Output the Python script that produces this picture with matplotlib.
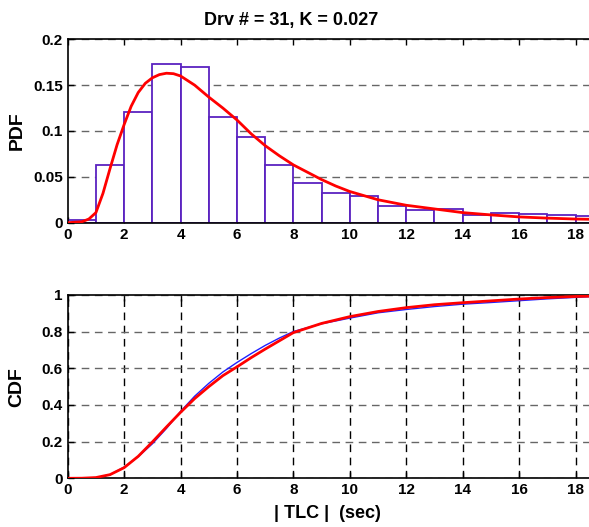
import matplotlib
matplotlib.use("Agg")
import matplotlib.pyplot as plt
import numpy as np

plt.rcParams['font.family'] = ['Liberation Sans', 'DejaVu Sans']
plt.rcParams['font.weight'] = 'bold'

# histogram of |TLC| (bin width 1 s)
bin_left = [0, 1, 2, 3, 4, 5, 6, 7, 8, 9, 10, 11, 12, 13, 14, 15, 16, 17, 18]
hist_pdf = [0.0025, 0.063, 0.121, 0.173, 0.170, 0.115, 0.0935, 0.063, 0.043, 0.032,
            0.0295, 0.018, 0.014, 0.015, 0.008, 0.011, 0.010, 0.0084, 0.0069]

# fitted pdf (red)
fit_x = [0, 0.5, 0.75, 1, 1.25, 1.5, 1.75, 2, 2.25, 2.5, 2.75, 3, 3.25, 3.5, 3.75, 4,
         4.5, 5, 5.5, 6, 6.5, 7, 7.5, 8, 8.5, 9, 9.5, 10, 11, 12, 13, 14, 15, 16, 17, 18, 19]
fit_pdf = [0.0, 0.001, 0.004, 0.011, 0.032, 0.059, 0.085, 0.107, 0.127, 0.142, 0.152,
           0.158, 0.1615, 0.163, 0.1625, 0.160, 0.150, 0.137, 0.125, 0.112, 0.097,
           0.084, 0.073, 0.063, 0.055, 0.047, 0.040, 0.034, 0.025, 0.019, 0.015,
           0.011, 0.0085, 0.0063, 0.005, 0.004, 0.0035]

# cdf: fitted (red) and empirical (blue)
cdf_x = [0, 0.5, 1, 1.5, 2, 2.5, 3, 3.5, 4, 4.5, 5, 5.5, 6, 6.5, 7, 7.5, 8, 9, 10,
         11, 12, 13, 14, 15, 16, 17, 18, 19]
fit_cdf = [0.0, 0.0005, 0.004, 0.02, 0.058, 0.12, 0.198, 0.28, 0.36, 0.435, 0.50,
           0.56, 0.608, 0.658, 0.705, 0.75, 0.795, 0.845, 0.882, 0.91, 0.931, 0.947,
           0.958, 0.968, 0.978, 0.986, 0.992, 0.995]
emp_cdf = [0.0, 0.001, 0.003, 0.02, 0.061, 0.118, 0.188, 0.272, 0.365, 0.448, 0.518,
           0.58, 0.632, 0.68, 0.725, 0.765, 0.801, 0.843, 0.874, 0.903, 0.921, 0.937,
           0.95, 0.959, 0.969, 0.979, 0.987, 0.995]

W, H = 589, 527
fig = plt.figure(figsize=(W / 100, H / 100), dpi=100)

def px_axes(x0, y0, x1, y1):
    return fig.add_axes([x0 / W, 1 - y1 / H, (x1 - x0) / W, (y1 - y0) / H])

ax1 = px_axes(67.7, 39.3, 632, 222.7)
ax2 = px_axes(67.7, 295, 632, 478.3)

dash = (0, (5.5, 4))

ax1.bar(bin_left, hist_pdf, width=1, align='edge', facecolor='white',
        edgecolor='#5a22c0', linewidth=1.3, zorder=2)
ax1.plot(fit_x, fit_pdf, color='red', linewidth=2, zorder=3)
ax1.set_ylim(0, 0.2)
ax1.set_yticks([0, 0.05, 0.1, 0.15, 0.2])
ax1.set_yticklabels(['0', '0.05', '0.1', '0.15', '0.2'])
ax1.grid(axis='y', linestyle=dash, color='0.4', linewidth=1)

ax2.plot(cdf_x, emp_cdf, color='#1f1fff', linewidth=1, zorder=2)
ax2.plot(cdf_x, fit_cdf, color='red', linewidth=2, zorder=3)
ax2.set_ylim(0, 1)
ax2.set_yticks([0, 0.2, 0.4, 0.6, 0.8, 1])
ax2.set_yticklabels(['0', '0.2', '0.4', '0.6', '0.8', '1'])
ax2.grid(axis='y', linestyle=dash, color='0.4', linewidth=1)
ax2.grid(axis='x', linestyle=dash, color='k', linewidth=1)

for ax in (ax1, ax2):
    ax.set_xlim(0, 20)
    ax.set_xticks(range(0, 20, 2))
    ax.set_axisbelow(True)
    ax.tick_params(direction='in', top=True, right=True, length=4,
                   labelsize=11, width=1)
    for lab in ax.get_xticklabels() + ax.get_yticklabels():
        lab.set_fontweight('bold')
    for s in ax.spines.values():
        s.set_linewidth(1.2)

fig.text(291 / W, 1 - 20.5 / H, 'Drv # = 31, K = 0.027', ha='center', va='center',
         fontsize=13, fontweight='bold')
fig.text(17 / W, 1 - 131 / H, 'PDF', rotation=90, ha='center', va='center',
         fontsize=14, fontweight='bold')
fig.text(17 / W, 1 - 387 / H, 'CDF', rotation=90, ha='center', va='center',
         fontsize=14, fontweight='bold')
fig.text(327 / W, 1 - 513 / H, '| TLC |  (sec)', ha='center', va='center',
         fontsize=13, fontweight='bold')

fig.savefig('out.png', dpi=100)
